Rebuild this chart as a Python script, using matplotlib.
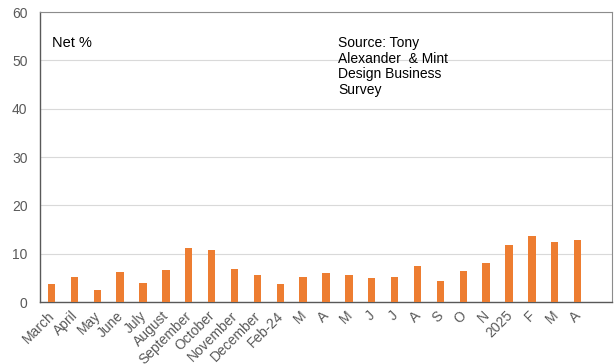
import matplotlib
matplotlib.use("Agg")
import matplotlib.pyplot as plt
import matplotlib.transforms as mtransforms
import numpy as np

plt.rcParams['font.family'] = ['Liberation Sans', 'DejaVu Sans']

months = ["March", "April", "May", "June", "July", "August", "September",
          "October", "November", "December", "Feb-24", "M", "A", "M", "J",
          "J", "A", "S", "O", "N", "2025", "F", "M", "A"]
net_pct = [3.8, 5.1, 2.5, 6.2, 4.0, 6.7, 11.2, 10.7, 6.8, 5.6, 3.7, 5.1,
           6.0, 5.6, 5.0, 5.2, 7.4, 4.4, 6.5, 8.0, 11.7, 13.6, 12.5, 12.8]
y_ticks = [0, 10, 20, 30, 40, 50, 60]

fig = plt.figure(figsize=(6.14, 3.64), dpi=100)
ax = fig.add_axes([40 / 614, 62 / 364, 572 / 614, 290 / 364])

x = np.arange(len(months))
ax.bar(x, net_pct, width=0.32, color="#ED7D31", zorder=3)

ax.set_xlim(-0.5, len(months) + 0.5)
ax.set_ylim(0, 60)
ax.set_yticks(y_ticks)
ax.set_xticks(x)
ax.set_xticklabels(months, rotation=45, ha="right", va="top")
ax.tick_params(axis="both", length=0, labelsize=10, labelcolor="#595959")
ax.tick_params(axis="x", pad=4)
ax.tick_params(axis="y", pad=9)

# nudge the rotated month labels a little to the right of their ticks
shift = mtransforms.ScaledTranslation(6 / 100, -1 / 100, fig.dpi_scale_trans)
for lbl in ax.get_xticklabels():
    lbl.set_transform(lbl.get_transform() + shift)

ax.grid(axis="y", color="#D9D9D9", linewidth=0.8, zorder=0)
ax.set_axisbelow(True)

for side in ["top", "right"]:
    ax.spines[side].set_color("#8C8C8C")
    ax.spines[side].set_linewidth(0.8)
for side in ["left", "bottom"]:
    ax.spines[side].set_color("#595959")
    ax.spines[side].set_linewidth(1.0)

fig.text(52 / 614, 1 - 43 / 364, "Net %", fontsize=10.5, color="#000000",
         va="center", ha="left")
fig.text(338 / 614, 1 - 36 / 364,
         "Source: Tony\nAlexander  & Mint\nDesign Business\nSurvey",
         fontsize=10, color="#000000", va="top", ha="left", linespacing=1.15)

fig.savefig("out.png", dpi=100)
